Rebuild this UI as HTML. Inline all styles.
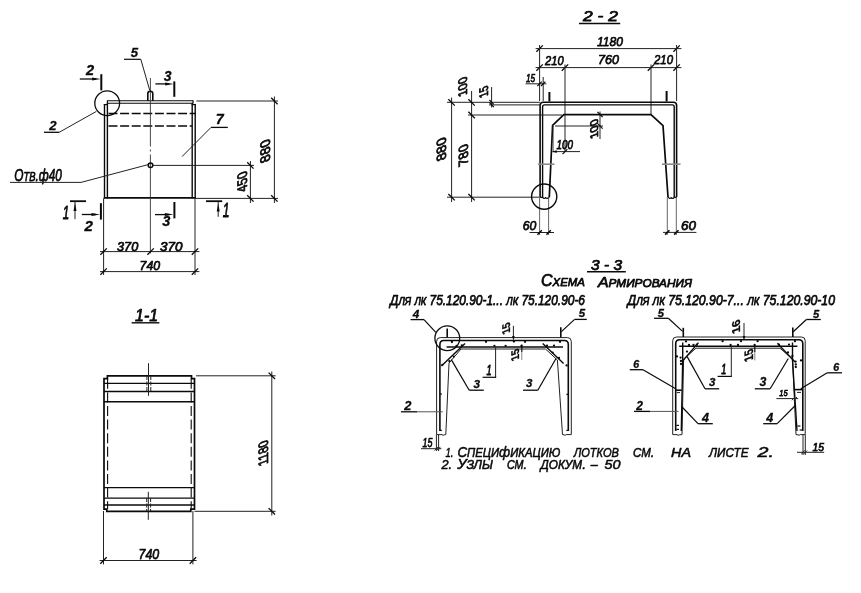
<!DOCTYPE html>
<html lang="ru">
<head>
<meta charset="utf-8">
<title>Лоток ЛК 75.120.90</title>
<style>
html,body{margin:0;padding:0;background:#fff;}
body{width:861px;height:593px;overflow:hidden;}
svg{display:block;will-change:transform;transform:translateZ(0);}
svg text{font-family:"Liberation Sans",sans-serif;font-style:italic;fill:#0a0a0a;stroke:#0a0a0a;stroke-width:0.75px;stroke-linejoin:round;}
</style>
</head>
<body>
<svg width="861" height="593" viewBox="0 0 861 593">
<rect x="0" y="0" width="861" height="593" fill="#ffffff"/>
<line x1="107.2" y1="100.8" x2="193.2" y2="100.8" stroke="#0a0a0a" stroke-width="1.1"/>
<line x1="107.2" y1="103.2" x2="193.2" y2="103.2" stroke="#0a0a0a" stroke-width="1.1"/>
<line x1="107.4" y1="100.4" x2="107.4" y2="103.5" stroke="#0a0a0a" stroke-width="1.2"/>
<line x1="193" y1="100.4" x2="193" y2="103.5" stroke="#0a0a0a" stroke-width="1.2"/>
<line x1="104.5" y1="104.2" x2="104.5" y2="198.4" stroke="#0a0a0a" stroke-width="1.4"/>
<line x1="107.4" y1="103" x2="107.4" y2="198.4" stroke="#0a0a0a" stroke-width="1.4"/>
<line x1="103.8" y1="104.6" x2="107.6" y2="104.6" stroke="#0a0a0a" stroke-width="1.2"/>
<line x1="192.2" y1="103" x2="192.2" y2="198.4" stroke="#0a0a0a" stroke-width="1.4"/>
<line x1="195.2" y1="104.2" x2="195.2" y2="198.4" stroke="#0a0a0a" stroke-width="1.4"/>
<line x1="191.6" y1="104.6" x2="195.9" y2="104.6" stroke="#0a0a0a" stroke-width="1.2"/>
<line x1="103.8" y1="197.9" x2="195.9" y2="197.9" stroke="#0a0a0a" stroke-width="1.6"/>
<line x1="108.5" y1="113.6" x2="196" y2="113.6" stroke="#0a0a0a" stroke-width="1.5" stroke-dasharray="9 2.6"/>
<line x1="108.5" y1="126" x2="192" y2="126" stroke="#0a0a0a" stroke-width="1.5" stroke-dasharray="9 2.6"/>
<line x1="150.4" y1="78" x2="150.4" y2="146.5" stroke="#333" stroke-width="0.9"/>
<line x1="150.4" y1="149.5" x2="150.4" y2="151.5" stroke="#333" stroke-width="0.9"/>
<line x1="150.4" y1="154.5" x2="150.4" y2="253.5" stroke="#333" stroke-width="0.9"/>
<path d="M147.8,101 L147.8,93.6 Q147.8,91.2 150.3,91.2 Q152.8,91.2 152.8,93.6 L152.8,101" fill="none" stroke="#0a0a0a" stroke-width="1.6" stroke-linejoin="round"/>
<circle cx="150.5" cy="165.2" r="2.3" fill="none" stroke="#0a0a0a" stroke-width="1.5"/>
<line x1="152.8" y1="165.4" x2="254" y2="165.4" stroke="#222" stroke-width="1"/>
<text x="134.39" y="57.2" text-anchor="middle" style="font-size:13.13px;font-weight:bold;stroke-width:0.3px;">5</text>
<line x1="124" y1="59.3" x2="140.8" y2="59.3" stroke="#0a0a0a" stroke-width="1.2"/>
<line x1="140.8" y1="59.3" x2="149.8" y2="90.6" stroke="#222" stroke-width="1"/>
<text x="90.01" y="75" text-anchor="middle" style="font-size:14.53px;font-weight:bold;stroke-width:0.3px;">2</text>
<line x1="79.8" y1="79" x2="96" y2="79" stroke="#0a0a0a" stroke-width="1.3"/>
<path d="M100.6,79 L92.1,77.5 L92.1,80.5 Z" fill="#0a0a0a"/>
<line x1="101.3" y1="74.2" x2="101.3" y2="90.4" stroke="#0a0a0a" stroke-width="2"/>
<text x="167.57" y="80.6" text-anchor="middle" style="font-size:13.97px;font-weight:bold;stroke-width:0.3px;">3</text>
<line x1="155.4" y1="83.9" x2="169" y2="83.9" stroke="#0a0a0a" stroke-width="1.3"/>
<path d="M173.6,83.9 L165.1,82.4 L165.1,85.4 Z" fill="#0a0a0a"/>
<line x1="174.3" y1="81.4" x2="174.3" y2="96.8" stroke="#0a0a0a" stroke-width="2"/>
<circle cx="107.2" cy="103.3" r="12.4" fill="none" stroke="#0a0a0a" stroke-width="1.3"/>
<text x="52.84" y="129.8" text-anchor="middle" style="font-size:13.13px;font-weight:bold;stroke-width:0.3px;">2</text>
<line x1="44" y1="132.3" x2="59.2" y2="132.3" stroke="#0a0a0a" stroke-width="1.3"/>
<line x1="59.2" y1="132.3" x2="96.4" y2="111.4" stroke="#222" stroke-width="1"/>
<text x="219.82" y="124.4" text-anchor="middle" style="font-size:14.25px;font-weight:bold;stroke-width:0.3px;">7</text>
<line x1="211" y1="127.4" x2="227.8" y2="127.4" stroke="#0a0a0a" stroke-width="1.3"/>
<line x1="211" y1="127.4" x2="182" y2="156.6" stroke="#222" stroke-width="1"/>
<text x="14.2" y="180.6" textLength="47.6" lengthAdjust="spacingAndGlyphs" style="font-size:15.92px;">О<tspan style="font-size:80%;text-transform:uppercase">тв</tspan>.ф40</text>
<line x1="10" y1="182.4" x2="81" y2="182.4" stroke="#222" stroke-width="1"/>
<line x1="81" y1="182.4" x2="148.2" y2="164.6" stroke="#222" stroke-width="1"/>
<line x1="70" y1="201.2" x2="86" y2="201.2" stroke="#0a0a0a" stroke-width="1.8"/>
<line x1="75" y1="201.4" x2="75" y2="219.2" stroke="#222" stroke-width="1"/>
<path d="M75,203 L73.5,211 L76.5,211 Z" fill="#0a0a0a"/>
<text x="62.67" y="219" textLength="6.45" lengthAdjust="spacingAndGlyphs" style="font-size:18.72px;stroke-width:0.9px;">1</text>
<line x1="81.8" y1="214.5" x2="96" y2="214.5" stroke="#0a0a0a" stroke-width="1.3"/>
<path d="M100,214.5 L91.5,213 L91.5,216 Z" fill="#0a0a0a"/>
<line x1="100.9" y1="203.2" x2="100.9" y2="219.6" stroke="#0a0a0a" stroke-width="2"/>
<text x="88.7" y="230.8" text-anchor="middle" style="font-size:15.08px;font-weight:bold;stroke-width:0.3px;">2</text>
<line x1="155" y1="214.6" x2="169" y2="214.6" stroke="#0a0a0a" stroke-width="1.3"/>
<path d="M173.4,214.6 L164.9,213.1 L164.9,216.1 Z" fill="#0a0a0a"/>
<line x1="174.4" y1="202" x2="174.4" y2="218.4" stroke="#0a0a0a" stroke-width="2"/>
<text x="166.21" y="226" text-anchor="middle" style="font-size:14.53px;font-weight:bold;stroke-width:0.3px;">3</text>
<line x1="206" y1="201.2" x2="222.2" y2="201.2" stroke="#0a0a0a" stroke-width="1.8"/>
<line x1="218.2" y1="201.4" x2="218.2" y2="216.8" stroke="#222" stroke-width="1"/>
<path d="M218.2,203.4 L216.7,211.4 L219.7,211.4 Z" fill="#0a0a0a"/>
<text x="222.63" y="216.6" textLength="6.74" lengthAdjust="spacingAndGlyphs" style="font-size:19.55px;stroke-width:0.9px;">1</text>
<line x1="196.4" y1="101" x2="278" y2="101" stroke="#222" stroke-width="1"/>
<line x1="196" y1="198.4" x2="278" y2="198.4" stroke="#222" stroke-width="1"/>
<line x1="274.4" y1="96.5" x2="274.4" y2="203" stroke="#222" stroke-width="1"/>
<line x1="271.2" y1="97.8" x2="277.6" y2="104.2" stroke="#0a0a0a" stroke-width="1.3"/>
<line x1="271.2" y1="195.2" x2="277.6" y2="201.6" stroke="#0a0a0a" stroke-width="1.3"/>
<text transform="matrix(0,-1,1,-0.38,270.2,160.67)" textLength="22.67" lengthAdjust="spacingAndGlyphs" style="font-size:13.97px;font-style:normal;">880</text>
<line x1="250.4" y1="161" x2="250.4" y2="203" stroke="#222" stroke-width="1"/>
<line x1="247.2" y1="162.2" x2="253.6" y2="168.6" stroke="#0a0a0a" stroke-width="1.3"/>
<line x1="247.2" y1="195.2" x2="253.6" y2="201.6" stroke="#0a0a0a" stroke-width="1.3"/>
<text transform="matrix(0,-1,1,-0.38,247,190.17)" textLength="20.17" lengthAdjust="spacingAndGlyphs" style="font-size:13.97px;font-style:normal;">450</text>
<line x1="103.6" y1="198.4" x2="103.6" y2="275" stroke="#222" stroke-width="1"/>
<line x1="195" y1="198.4" x2="195" y2="275" stroke="#222" stroke-width="1"/>
<line x1="100" y1="251.6" x2="199.4" y2="251.6" stroke="#222" stroke-width="1"/>
<line x1="100" y1="271.6" x2="199.4" y2="271.6" stroke="#222" stroke-width="1"/>
<line x1="100.4" y1="254.8" x2="106.8" y2="248.4" stroke="#0a0a0a" stroke-width="1.3"/>
<line x1="147.4" y1="254.8" x2="153.8" y2="248.4" stroke="#0a0a0a" stroke-width="1.3"/>
<line x1="191.8" y1="254.8" x2="198.2" y2="248.4" stroke="#0a0a0a" stroke-width="1.3"/>
<line x1="100.4" y1="274.8" x2="106.8" y2="268.4" stroke="#0a0a0a" stroke-width="1.3"/>
<line x1="191.8" y1="274.8" x2="198.2" y2="268.4" stroke="#0a0a0a" stroke-width="1.3"/>
<text x="117" y="250.6" textLength="21.2" lengthAdjust="spacingAndGlyphs" style="font-size:13.41px;">370</text>
<text x="160" y="250.6" textLength="22.4" lengthAdjust="spacingAndGlyphs" style="font-size:13.41px;">370</text>
<text x="139.6" y="270" textLength="20.6" lengthAdjust="spacingAndGlyphs" style="font-size:13.41px;">740</text>
<text x="135" y="320.6" textLength="23.2" lengthAdjust="spacingAndGlyphs" style="font-size:15.92px;">1-1</text>
<line x1="131.6" y1="322.8" x2="159.4" y2="322.8" stroke="#0a0a0a" stroke-width="1.4"/>
<path d="M104,509.2 L104,378.6 L107.4,378.6 L107.4,375.8 L191.5,375.8 L191.5,378.6 L194.5,378.6 L194.5,509.2 L190.8,509.2 L190.8,511.4 L106.8,511.4 L106.8,509.2 Z" fill="none" stroke="#0a0a0a" stroke-width="1.7" stroke-linejoin="miter"/>
<line x1="104" y1="383.4" x2="194.5" y2="383.4" stroke="#0a0a0a" stroke-width="1.4"/>
<line x1="104" y1="391.5" x2="194.5" y2="391.5" stroke="#0a0a0a" stroke-width="1.4"/>
<line x1="104" y1="401.8" x2="194.5" y2="401.8" stroke="#0a0a0a" stroke-width="1.4"/>
<line x1="104" y1="487.6" x2="194.5" y2="487.6" stroke="#0a0a0a" stroke-width="1.4"/>
<line x1="104" y1="498.1" x2="194.5" y2="498.1" stroke="#0a0a0a" stroke-width="1.4"/>
<line x1="104" y1="505" x2="194.5" y2="505" stroke="#0a0a0a" stroke-width="1.4"/>
<line x1="107.6" y1="378.8" x2="107.6" y2="509" stroke="#0a0a0a" stroke-width="1.1" stroke-dasharray="10 3.6"/>
<line x1="191.2" y1="378.8" x2="191.2" y2="509" stroke="#0a0a0a" stroke-width="1.1" stroke-dasharray="10 3.6"/>
<line x1="148.5" y1="363.2" x2="148.5" y2="395.8" stroke="#222" stroke-width="1"/>
<line x1="148.3" y1="491.8" x2="148.3" y2="519.8" stroke="#222" stroke-width="1"/>
<line x1="146.9" y1="376" x2="146.9" y2="391.5" stroke="#222" stroke-width="1" stroke-dasharray="4 1.5"/>
<line x1="150.8" y1="376" x2="150.8" y2="391.5" stroke="#222" stroke-width="1" stroke-dasharray="4 1.5"/>
<line x1="146.7" y1="498" x2="146.7" y2="511" stroke="#222" stroke-width="1" stroke-dasharray="4 1.5"/>
<line x1="150.6" y1="498" x2="150.6" y2="511" stroke="#222" stroke-width="1" stroke-dasharray="4 1.5"/>
<line x1="196" y1="375.8" x2="275.6" y2="375.8" stroke="#222" stroke-width="1"/>
<line x1="194.5" y1="511.3" x2="275.6" y2="511.3" stroke="#222" stroke-width="1"/>
<line x1="271.8" y1="371.5" x2="271.8" y2="515.5" stroke="#222" stroke-width="1"/>
<line x1="268.6" y1="372.6" x2="275" y2="379" stroke="#0a0a0a" stroke-width="1.3"/>
<line x1="268.6" y1="508.1" x2="275" y2="514.5" stroke="#0a0a0a" stroke-width="1.3"/>
<text transform="matrix(0,-1,1,-0.38,268.2,463.7)" textLength="24.7" lengthAdjust="spacingAndGlyphs" style="font-size:13.69px;font-style:normal;">1180</text>
<line x1="103.5" y1="511" x2="103.5" y2="564.4" stroke="#222" stroke-width="1"/>
<line x1="192.9" y1="511" x2="192.9" y2="564.4" stroke="#222" stroke-width="1"/>
<line x1="99.6" y1="560.5" x2="196.6" y2="560.5" stroke="#222" stroke-width="1"/>
<line x1="100.3" y1="563.7" x2="106.7" y2="557.3" stroke="#0a0a0a" stroke-width="1.3"/>
<line x1="189.7" y1="563.7" x2="196.1" y2="557.3" stroke="#0a0a0a" stroke-width="1.3"/>
<text x="138.5" y="558.6" textLength="20.7" lengthAdjust="spacingAndGlyphs" style="font-size:14.8px;">740</text>
<text x="583" y="21" textLength="35" lengthAdjust="spacingAndGlyphs" style="font-size:14.8px;">2 - 2</text>
<line x1="579" y1="23.6" x2="620.2" y2="23.6" stroke="#0a0a0a" stroke-width="1.5"/>
<text x="597" y="45.6" textLength="26" lengthAdjust="spacingAndGlyphs" style="font-size:13.69px;">1180</text>
<line x1="535.6" y1="48.6" x2="681.4" y2="48.6" stroke="#222" stroke-width="1"/>
<line x1="535.6" y1="67.6" x2="681.4" y2="67.6" stroke="#222" stroke-width="1"/>
<line x1="536.4" y1="51.8" x2="542.8" y2="45.4" stroke="#0a0a0a" stroke-width="1.3"/>
<line x1="673.4" y1="51.8" x2="679.8" y2="45.4" stroke="#0a0a0a" stroke-width="1.3"/>
<line x1="536.4" y1="70.8" x2="542.8" y2="64.4" stroke="#0a0a0a" stroke-width="1.3"/>
<line x1="561.8" y1="70.8" x2="568.2" y2="64.4" stroke="#0a0a0a" stroke-width="1.3"/>
<line x1="647.8" y1="70.8" x2="654.2" y2="64.4" stroke="#0a0a0a" stroke-width="1.3"/>
<line x1="673.4" y1="70.8" x2="679.8" y2="64.4" stroke="#0a0a0a" stroke-width="1.3"/>
<text x="545" y="64.8" textLength="18.6" lengthAdjust="spacingAndGlyphs" style="font-size:13.69px;">210</text>
<text x="598" y="64.4" textLength="21" lengthAdjust="spacingAndGlyphs" style="font-size:13.69px;">760</text>
<text x="654" y="64.4" textLength="19" lengthAdjust="spacingAndGlyphs" style="font-size:13.69px;">210</text>
<line x1="539.6" y1="45" x2="539.6" y2="101" stroke="#222" stroke-width="1"/>
<line x1="676.6" y1="45" x2="676.6" y2="101" stroke="#222" stroke-width="1"/>
<line x1="565" y1="64.5" x2="565" y2="151.6" stroke="#222" stroke-width="1"/>
<line x1="651" y1="64.5" x2="651" y2="114" stroke="#222" stroke-width="1"/>
<text x="526" y="82.4" textLength="9.2" lengthAdjust="spacingAndGlyphs" style="font-size:11.45px;">15</text>
<line x1="525.6" y1="83.8" x2="546.4" y2="83.8" stroke="#222" stroke-width="1"/>
<line x1="543.2" y1="77" x2="543.2" y2="101" stroke="#222" stroke-width="1"/>
<line x1="537.4" y1="86" x2="541.8" y2="81.6" stroke="#0a0a0a" stroke-width="1.1"/>
<line x1="541" y1="86" x2="545.4" y2="81.6" stroke="#0a0a0a" stroke-width="1.1"/>
<line x1="549.4" y1="92" x2="549.4" y2="101.4" stroke="#0a0a0a" stroke-width="2"/>
<line x1="666.6" y1="91" x2="666.6" y2="101.4" stroke="#0a0a0a" stroke-width="2"/>
<path d="M540.1,197 L540.1,105.4 Q540.1,102.2 543.3,102.2 L673.4,102.2 Q676.6,102.2 676.6,105.4 L676.6,197" fill="none" stroke="#0a0a0a" stroke-width="1.6" stroke-linejoin="round"/>
<path d="M542.6,197 L542.6,106.8 Q542.6,104.9 544.6,104.9 L672.2,104.9 Q674.2,104.9 674.2,106.8 L674.2,197" fill="none" stroke="#0a0a0a" stroke-width="1.4" stroke-linejoin="round"/>
<path d="M549.3,197 L552.6,125.4 L563.8,114.6 L651,114.6 L663,125.6 L668,197" fill="none" stroke="#0a0a0a" stroke-width="1.7" stroke-linejoin="miter"/>
<path d="M540.1,197.4 L542.6,197.4 Q544.2,199.4 545.6,197.6 Q547.4,199.4 549.3,197" fill="none" stroke="#0a0a0a" stroke-width="1.3" stroke-linejoin="round"/>
<path d="M668,197 Q669.6,199.4 671.2,197.6 Q672.8,199.4 674.2,197.4 L676.6,197.4" fill="none" stroke="#0a0a0a" stroke-width="1.3" stroke-linejoin="round"/>
<line x1="538" y1="164.2" x2="554.5" y2="164.2" stroke="#8a8a8a" stroke-width="1.6"/>
<line x1="662" y1="164.2" x2="680.5" y2="164.2" stroke="#8a8a8a" stroke-width="1.6"/>
<line x1="539.6" y1="197" x2="539.6" y2="235" stroke="#555" stroke-width="0.9"/>
<line x1="548.6" y1="197" x2="548.6" y2="235" stroke="#555" stroke-width="0.9"/>
<line x1="667.3" y1="197" x2="667.3" y2="235" stroke="#555" stroke-width="0.9"/>
<line x1="676.3" y1="197" x2="676.3" y2="235" stroke="#555" stroke-width="0.9"/>
<line x1="451.6" y1="97.5" x2="451.6" y2="202" stroke="#222" stroke-width="1"/>
<line x1="471.6" y1="91" x2="471.6" y2="202" stroke="#222" stroke-width="1"/>
<line x1="491.6" y1="87" x2="491.6" y2="107.5" stroke="#222" stroke-width="1"/>
<line x1="447" y1="102.3" x2="540" y2="102.3" stroke="#222" stroke-width="1"/>
<line x1="489" y1="104.9" x2="540" y2="104.9" stroke="#222" stroke-width="1"/>
<line x1="468" y1="115" x2="562" y2="115" stroke="#222" stroke-width="1"/>
<line x1="447" y1="197.2" x2="539" y2="197.2" stroke="#222" stroke-width="1"/>
<line x1="448.4" y1="99.2" x2="454.8" y2="105.6" stroke="#0a0a0a" stroke-width="1.3"/>
<line x1="448.4" y1="194" x2="454.8" y2="200.4" stroke="#0a0a0a" stroke-width="1.3"/>
<line x1="468.4" y1="99.2" x2="474.8" y2="105.6" stroke="#0a0a0a" stroke-width="1.3"/>
<line x1="468.4" y1="111.8" x2="474.8" y2="118.2" stroke="#0a0a0a" stroke-width="1.3"/>
<line x1="468.4" y1="194" x2="474.8" y2="200.4" stroke="#0a0a0a" stroke-width="1.3"/>
<line x1="489.4" y1="100" x2="493.8" y2="104.4" stroke="#0a0a0a" stroke-width="1.1"/>
<line x1="489.4" y1="102.6" x2="493.8" y2="107" stroke="#0a0a0a" stroke-width="1.1"/>
<text transform="matrix(0,-1,1,-0.38,467,94.8)" textLength="19.2" lengthAdjust="spacingAndGlyphs" style="font-size:12.57px;font-style:normal;">100</text>
<text transform="matrix(0,-1,1,-0.38,488,95.8)" textLength="11" lengthAdjust="spacingAndGlyphs" style="font-size:12.57px;font-style:normal;">15</text>
<text transform="matrix(0,-1,1,-0.38,445.6,159.12)" textLength="23.12" lengthAdjust="spacingAndGlyphs" style="font-size:13.41px;font-style:normal;">880</text>
<text transform="matrix(0,-1,1,-0.38,467.6,164.32)" textLength="21.32" lengthAdjust="spacingAndGlyphs" style="font-size:13.41px;font-style:normal;">780</text>
<line x1="552.6" y1="151.6" x2="580" y2="151.6" stroke="#222" stroke-width="1"/>
<line x1="553.2" y1="126" x2="553.2" y2="152.4" stroke="#444" stroke-width="0.8"/>
<path d="M552.2,151.6 L556.7,150.3 L556.7,152.9 Z" fill="#0a0a0a"/>
<line x1="562.6" y1="154" x2="567.4" y2="149.2" stroke="#0a0a0a" stroke-width="1.1"/>
<text x="556.6" y="149" textLength="16.4" lengthAdjust="spacingAndGlyphs" style="font-size:12.01px;">100</text>
<line x1="600" y1="111.5" x2="600" y2="139" stroke="#222" stroke-width="1"/>
<line x1="555" y1="126" x2="603" y2="126" stroke="#222" stroke-width="1"/>
<line x1="597.4" y1="111.8" x2="602.6" y2="117" stroke="#0a0a0a" stroke-width="1.2"/>
<line x1="597.4" y1="123.4" x2="602.6" y2="128.6" stroke="#0a0a0a" stroke-width="1.2"/>
<text transform="matrix(0,-1,1,-0.38,598,136.94)" textLength="18.94" lengthAdjust="spacingAndGlyphs" style="font-size:11.17px;font-style:normal;">100</text>
<circle cx="544.2" cy="196.6" r="12.6" fill="none" stroke="#0a0a0a" stroke-width="1.4"/>
<text x="522.8" y="230" textLength="13.6" lengthAdjust="spacingAndGlyphs" style="font-size:13.69px;">60</text>
<line x1="529.5" y1="232.5" x2="554" y2="232.5" stroke="#222" stroke-width="1"/>
<line x1="537.4" y1="234.7" x2="541.8" y2="230.3" stroke="#0a0a0a" stroke-width="1.5"/>
<line x1="546.4" y1="234.7" x2="550.8" y2="230.3" stroke="#0a0a0a" stroke-width="1.5"/>
<text x="681" y="229.6" textLength="15" lengthAdjust="spacingAndGlyphs" style="font-size:13.69px;">60</text>
<line x1="663" y1="232.4" x2="696.4" y2="232.4" stroke="#222" stroke-width="1"/>
<line x1="665.1" y1="234.6" x2="669.5" y2="230.2" stroke="#0a0a0a" stroke-width="1.5"/>
<line x1="674.1" y1="234.6" x2="678.5" y2="230.2" stroke="#0a0a0a" stroke-width="1.5"/>
<text x="591" y="270" textLength="31" lengthAdjust="spacingAndGlyphs" style="font-size:14.8px;">3 - 3</text>
<line x1="587" y1="271.8" x2="625.8" y2="271.8" stroke="#0a0a0a" stroke-width="1.5"/>
<text x="541" y="286" textLength="44" lengthAdjust="spacingAndGlyphs" style="font-size:16.06px;">С<tspan style="font-size:72%;text-transform:uppercase">хема</tspan></text>
<text x="598" y="287" textLength="94" lengthAdjust="spacingAndGlyphs" style="font-size:15.36px;">А<tspan style="font-size:74%;text-transform:uppercase">рмирования</tspan></text>
<text x="390" y="304.7" textLength="195" lengthAdjust="spacingAndGlyphs" style="font-size:14.11px;">Д<tspan style="font-size:78%;text-transform:uppercase">ля</tspan> <tspan style="font-size:78%;text-transform:uppercase">лк</tspan> 75.120.90-1... <tspan style="font-size:78%;text-transform:uppercase">лк</tspan> 75.120.90-6</text>
<text x="627.5" y="305.4" textLength="207.5" lengthAdjust="spacingAndGlyphs" style="font-size:14.25px;">Д<tspan style="font-size:78%;text-transform:uppercase">ля</tspan> <tspan style="font-size:78%;text-transform:uppercase">лк</tspan> 75.120.90-7... <tspan style="font-size:78%;text-transform:uppercase">лк</tspan> 75.120.90-10</text>
<path d="M436.6,434.6 L436.6,341.2 Q436.6,337.6 440.2,337.6 L567.5,337.6 Q571.3,337.6 571.3,341.4 L571.3,434.6" fill="none" stroke="#222" stroke-width="1" stroke-linejoin="round"/>
<path d="M439.9,431 L439.9,344.4 Q439.9,340.5 443.8,340.5 L564.4,340.5 Q568.3,340.5 568.3,344.4 L568.3,431" fill="none" stroke="#0a0a0a" stroke-width="1.6" stroke-linejoin="round"/>
<line x1="446.6" y1="347" x2="563" y2="347" stroke="#0a0a0a" stroke-width="1.4"/>
<path d="M445.8,434.6 L449,363 L461,349 L545.5,349 L557.4,360 L562.5,434.6" fill="none" stroke="#222" stroke-width="1" stroke-linejoin="miter"/>
<path d="M436.6,434.6 L442,434.6 Q443,436 444.2,434.8 L445.8,434.6" fill="none" stroke="#222" stroke-width="1" stroke-linejoin="round"/>
<path d="M562.5,434.6 L564,434.8 Q565,436 566.2,434.6 L571.3,434.6" fill="none" stroke="#222" stroke-width="1" stroke-linejoin="round"/>
<line x1="465" y1="343.6" x2="441.4" y2="366" stroke="#0a0a0a" stroke-width="1.4"/>
<line x1="542.7" y1="343.5" x2="563.6" y2="363.4" stroke="#0a0a0a" stroke-width="1.4"/>
<circle cx="451.9" cy="342" r="1.15" fill="#0a0a0a"/>
<circle cx="486" cy="341.8" r="1.15" fill="#0a0a0a"/>
<circle cx="513.9" cy="341.6" r="1.15" fill="#0a0a0a"/>
<circle cx="525" cy="341.8" r="1.15" fill="#0a0a0a"/>
<circle cx="560" cy="341.8" r="1.15" fill="#0a0a0a"/>
<circle cx="494.4" cy="345.8" r="1.15" fill="#0a0a0a"/>
<circle cx="505.6" cy="345.8" r="1.15" fill="#0a0a0a"/>
<circle cx="521.5" cy="345.8" r="1.15" fill="#0a0a0a"/>
<circle cx="547" cy="345.6" r="1.15" fill="#0a0a0a"/>
<circle cx="554" cy="345.6" r="1.15" fill="#0a0a0a"/>
<circle cx="456.5" cy="346" r="1.15" fill="#0a0a0a"/>
<circle cx="461.8" cy="345.4" r="1.15" fill="#0a0a0a"/>
<circle cx="453.8" cy="356.6" r="1.15" fill="#0a0a0a"/>
<circle cx="449.4" cy="361.2" r="1.15" fill="#0a0a0a"/>
<circle cx="442.4" cy="364.8" r="1.15" fill="#0a0a0a"/>
<circle cx="552.6" cy="352.6" r="1.15" fill="#0a0a0a"/>
<circle cx="559" cy="358" r="1.15" fill="#0a0a0a"/>
<circle cx="566.6" cy="365.4" r="1.15" fill="#0a0a0a"/>
<line x1="439.9" y1="394" x2="441.8" y2="394" stroke="#0a0a0a" stroke-width="1.3"/>
<line x1="439.9" y1="430.4" x2="441.8" y2="430.4" stroke="#0a0a0a" stroke-width="1.3"/>
<line x1="568.3" y1="394.4" x2="566.4" y2="394.4" stroke="#0a0a0a" stroke-width="1.3"/>
<line x1="568.3" y1="430.4" x2="566.4" y2="430.4" stroke="#0a0a0a" stroke-width="1.3"/>
<circle cx="447.3" cy="338.2" r="12.4" fill="none" stroke="#0a0a0a" stroke-width="1.3"/>
<line x1="447.2" y1="328.5" x2="447.2" y2="337.4" stroke="#0a0a0a" stroke-width="1.6"/>
<text x="415.97" y="317.6" text-anchor="middle" style="font-size:11.73px;font-weight:bold;stroke-width:0.3px;">4</text>
<line x1="410.6" y1="319.6" x2="424" y2="319.6" stroke="#0a0a0a" stroke-width="1.3"/>
<line x1="424" y1="319.6" x2="435.8" y2="332.4" stroke="#0a0a0a" stroke-width="1.2"/>
<text x="581.97" y="317.4" text-anchor="middle" style="font-size:11.45px;font-weight:bold;stroke-width:0.3px;">5</text>
<line x1="574.6" y1="319.4" x2="586.8" y2="319.4" stroke="#0a0a0a" stroke-width="1.3"/>
<line x1="574.6" y1="319.4" x2="561.4" y2="331.6" stroke="#0a0a0a" stroke-width="1.2"/>
<line x1="560.8" y1="327.2" x2="560.8" y2="337.2" stroke="#0a0a0a" stroke-width="1.6"/>
<text transform="matrix(0,-1,1,-0.38,509.8,332.54)" textLength="11.14" lengthAdjust="spacingAndGlyphs" style="font-size:11.17px;font-style:normal;font-weight:bold;stroke-width:0.3px;">15</text>
<line x1="513.4" y1="325.8" x2="513.4" y2="337" stroke="#222" stroke-width="1"/>
<path d="M513.4,340.6 L512.1,336.1 L514.7,336.1 Z" fill="#0a0a0a"/>
<text transform="matrix(0,-1,1,-0.38,518.8,359.14)" textLength="11.34" lengthAdjust="spacingAndGlyphs" style="font-size:11.17px;font-style:normal;font-weight:bold;stroke-width:0.3px;">15</text>
<line x1="521.8" y1="344.6" x2="521.8" y2="352" stroke="#0a0a0a" stroke-width="1.2"/>
<line x1="521.8" y1="352" x2="521.8" y2="360" stroke="#888" stroke-width="1"/>
<text x="486.45" y="375" textLength="5.1" lengthAdjust="spacingAndGlyphs" style="font-size:14.8px;stroke-width:0.9px;">1</text>
<line x1="495.6" y1="347.2" x2="495.6" y2="377.3" stroke="#222" stroke-width="1"/>
<line x1="482.6" y1="377.3" x2="496.2" y2="377.3" stroke="#0a0a0a" stroke-width="1.2"/>
<text x="476.72" y="388.4" text-anchor="middle" style="font-size:11.73px;font-weight:bold;stroke-width:0.3px;">3</text>
<line x1="469.2" y1="390.2" x2="483.8" y2="390.2" stroke="#0a0a0a" stroke-width="1.3"/>
<line x1="469.2" y1="390.2" x2="451.3" y2="359.6" stroke="#0a0a0a" stroke-width="1.2"/>
<text x="529.27" y="387.4" text-anchor="middle" style="font-size:11.45px;font-weight:bold;stroke-width:0.3px;">3</text>
<line x1="523" y1="390.2" x2="537.8" y2="390.2" stroke="#0a0a0a" stroke-width="1.3"/>
<line x1="537.8" y1="390.2" x2="556" y2="358.5" stroke="#0a0a0a" stroke-width="1.2"/>
<text x="407.94" y="410.4" text-anchor="middle" style="font-size:12.85px;font-weight:bold;stroke-width:0.3px;">2</text>
<line x1="401" y1="411.8" x2="417" y2="411.8" stroke="#0a0a0a" stroke-width="1.3"/>
<line x1="417" y1="411.8" x2="442.7" y2="411.8" stroke="#555" stroke-width="1"/>
<text x="422.5" y="446.6" textLength="9.9" lengthAdjust="spacingAndGlyphs" style="font-size:12.01px;">15</text>
<line x1="421" y1="448.7" x2="441.4" y2="448.7" stroke="#222" stroke-width="1"/>
<line x1="436.4" y1="434.6" x2="436.4" y2="451" stroke="#222" stroke-width="1"/>
<line x1="438.6" y1="434.6" x2="438.6" y2="451" stroke="#222" stroke-width="1"/>
<line x1="434.6" y1="450.5" x2="438.2" y2="446.9" stroke="#222" stroke-width="1"/>
<line x1="436.8" y1="450.5" x2="440.4" y2="446.9" stroke="#222" stroke-width="1"/>
<path d="M672.7,434.6 L672.7,340.8 Q672.7,337 676.5,337 L801.4,337 Q805.2,337 805.2,340.8 L805.2,434.6" fill="none" stroke="#222" stroke-width="1" stroke-linejoin="round"/>
<path d="M675.7,431 L675.7,343.8 Q675.7,339.8 679.7,339.8 L798.8,339.8 Q802.8,339.8 802.8,343.8 L802.8,431" fill="none" stroke="#0a0a0a" stroke-width="1.6" stroke-linejoin="round"/>
<line x1="679.2" y1="346.2" x2="797.4" y2="346.2" stroke="#0a0a0a" stroke-width="1.4"/>
<path d="M682,434.6 L683.6,359.2 L696,348.2 L780,348.2 L792.5,359.2 L796,434.6" fill="none" stroke="#222" stroke-width="1" stroke-linejoin="miter"/>
<path d="M682.7,342.5 L682.7,360 L681.3,431" fill="none" stroke="#0a0a0a" stroke-width="1.4" stroke-linejoin="round"/>
<path d="M792.5,342.5 L792.5,360 L797,431" fill="none" stroke="#0a0a0a" stroke-width="1.4" stroke-linejoin="round"/>
<path d="M672.7,434.6 L677,434.6 Q678,436 679.2,434.8 L682,434.6" fill="none" stroke="#222" stroke-width="1" stroke-linejoin="round"/>
<path d="M796,434.6 L798,434.8 Q799,436 800.2,434.6 L805.2,434.6" fill="none" stroke="#222" stroke-width="1" stroke-linejoin="round"/>
<line x1="698.5" y1="342.6" x2="682.6" y2="361" stroke="#0a0a0a" stroke-width="1.4"/>
<line x1="777.4" y1="343.2" x2="795" y2="362" stroke="#0a0a0a" stroke-width="1.4"/>
<circle cx="686" cy="341.4" r="1.15" fill="#0a0a0a"/>
<circle cx="722.6" cy="341.2" r="1.15" fill="#0a0a0a"/>
<circle cx="741" cy="341.2" r="1.15" fill="#0a0a0a"/>
<circle cx="757.6" cy="341.2" r="1.15" fill="#0a0a0a"/>
<circle cx="795" cy="341.2" r="1.15" fill="#0a0a0a"/>
<circle cx="689" cy="345" r="1.15" fill="#0a0a0a"/>
<circle cx="693.5" cy="345" r="1.15" fill="#0a0a0a"/>
<circle cx="696.8" cy="344.6" r="1.15" fill="#0a0a0a"/>
<circle cx="730.6" cy="345" r="1.15" fill="#0a0a0a"/>
<circle cx="738" cy="345" r="1.15" fill="#0a0a0a"/>
<circle cx="754.6" cy="345" r="1.15" fill="#0a0a0a"/>
<circle cx="779" cy="344.6" r="1.15" fill="#0a0a0a"/>
<circle cx="789" cy="344.6" r="1.15" fill="#0a0a0a"/>
<circle cx="687" cy="351.6" r="1.15" fill="#0a0a0a"/>
<circle cx="677" cy="356.4" r="1.15" fill="#0a0a0a"/>
<circle cx="680.6" cy="357.6" r="1.15" fill="#0a0a0a"/>
<circle cx="681" cy="361" r="1.15" fill="#0a0a0a"/>
<circle cx="681" cy="364" r="1.15" fill="#0a0a0a"/>
<circle cx="788" cy="352.4" r="1.15" fill="#0a0a0a"/>
<circle cx="792.4" cy="356" r="1.15" fill="#0a0a0a"/>
<circle cx="801" cy="360.4" r="1.15" fill="#0a0a0a"/>
<circle cx="795.6" cy="361.6" r="1.15" fill="#0a0a0a"/>
<circle cx="795.8" cy="364.4" r="1.15" fill="#0a0a0a"/>
<circle cx="795.8" cy="367" r="1.15" fill="#0a0a0a"/>
<line x1="675.7" y1="390.2" x2="681.6" y2="390.2" stroke="#0a0a0a" stroke-width="1.6"/>
<line x1="676.8" y1="392.6" x2="680" y2="392.6" stroke="#222" stroke-width="1"/>
<line x1="794" y1="389.6" x2="803" y2="389.6" stroke="#0a0a0a" stroke-width="1.6"/>
<line x1="797" y1="392.4" x2="801" y2="392.4" stroke="#222" stroke-width="1"/>
<line x1="676.4" y1="425.4" x2="679" y2="425.4" stroke="#0a0a0a" stroke-width="1.2"/>
<line x1="676.4" y1="429.4" x2="679" y2="429.4" stroke="#0a0a0a" stroke-width="1.2"/>
<line x1="797.4" y1="426" x2="800.4" y2="426" stroke="#0a0a0a" stroke-width="1.2"/>
<line x1="799.6" y1="430" x2="802" y2="430" stroke="#0a0a0a" stroke-width="1.2"/>
<text x="660.88" y="317" text-anchor="middle" style="font-size:11.17px;font-weight:bold;stroke-width:0.3px;">5</text>
<line x1="654" y1="318.3" x2="668.3" y2="318.3" stroke="#0a0a0a" stroke-width="1.3"/>
<line x1="668.3" y1="318.3" x2="682.6" y2="331.4" stroke="#0a0a0a" stroke-width="1.2"/>
<line x1="683.3" y1="327.8" x2="683.3" y2="337" stroke="#0a0a0a" stroke-width="1.6"/>
<text x="816.13" y="317.6" text-anchor="middle" style="font-size:11.17px;font-weight:bold;stroke-width:0.3px;">5</text>
<line x1="806.4" y1="319.5" x2="820.8" y2="319.5" stroke="#0a0a0a" stroke-width="1.3"/>
<line x1="806.4" y1="319.5" x2="793.2" y2="331.8" stroke="#0a0a0a" stroke-width="1.2"/>
<line x1="792.8" y1="327.6" x2="792.8" y2="337" stroke="#0a0a0a" stroke-width="1.6"/>
<text transform="matrix(0,-1,1,-0.38,740.2,331.91)" textLength="13.51" lengthAdjust="spacingAndGlyphs" style="font-size:11.45px;font-style:normal;font-weight:bold;stroke-width:0.3px;">16</text>
<line x1="744" y1="323" x2="744" y2="337" stroke="#222" stroke-width="1"/>
<path d="M744,340.6 L742.7,336.1 L745.3,336.1 Z" fill="#0a0a0a"/>
<text transform="matrix(0,-1,1,-0.38,752.6,359.63)" textLength="11.83" lengthAdjust="spacingAndGlyphs" style="font-size:12.29px;font-style:normal;font-weight:bold;stroke-width:0.3px;">15</text>
<line x1="754.8" y1="345.3" x2="754.8" y2="352" stroke="#0a0a0a" stroke-width="1.2"/>
<line x1="754.8" y1="352" x2="754.8" y2="360.4" stroke="#888" stroke-width="1"/>
<text x="721.15" y="374" textLength="5.1" lengthAdjust="spacingAndGlyphs" style="font-size:14.8px;stroke-width:0.9px;">1</text>
<line x1="731.3" y1="346" x2="731.3" y2="376.4" stroke="#222" stroke-width="1"/>
<line x1="717.6" y1="376.4" x2="731.8" y2="376.4" stroke="#0a0a0a" stroke-width="1.2"/>
<text x="636.29" y="367.6" text-anchor="middle" style="font-size:10.61px;font-weight:bold;stroke-width:0.3px;">6</text>
<line x1="629.8" y1="369.7" x2="643" y2="369.7" stroke="#0a0a0a" stroke-width="1.3"/>
<line x1="643" y1="369.7" x2="675.7" y2="388.8" stroke="#0a0a0a" stroke-width="1.2"/>
<text x="836.24" y="371" text-anchor="middle" style="font-size:10.61px;font-weight:bold;stroke-width:0.3px;">6</text>
<line x1="827.3" y1="372.8" x2="842" y2="372.8" stroke="#0a0a0a" stroke-width="1.3"/>
<line x1="827.3" y1="372.8" x2="800.8" y2="388.8" stroke="#0a0a0a" stroke-width="1.2"/>
<text x="712.12" y="386" text-anchor="middle" style="font-size:11.45px;font-weight:bold;stroke-width:0.3px;">3</text>
<line x1="705" y1="388.8" x2="719.2" y2="388.8" stroke="#0a0a0a" stroke-width="1.3"/>
<line x1="705" y1="388.8" x2="687" y2="356.4" stroke="#0a0a0a" stroke-width="1.2"/>
<text x="763" y="386" text-anchor="middle" style="font-size:12.29px;font-weight:bold;stroke-width:0.3px;">3</text>
<line x1="754.8" y1="388.8" x2="770.2" y2="388.8" stroke="#0a0a0a" stroke-width="1.3"/>
<line x1="770.2" y1="388.8" x2="788.3" y2="358.5" stroke="#0a0a0a" stroke-width="1.2"/>
<text x="639.71" y="410" text-anchor="middle" style="font-size:12.01px;font-weight:bold;stroke-width:0.3px;">2</text>
<line x1="634" y1="411.4" x2="650" y2="411.4" stroke="#0a0a0a" stroke-width="1.3"/>
<line x1="650" y1="411.4" x2="678.5" y2="411.4" stroke="#555" stroke-width="1"/>
<text x="705.45" y="421.6" text-anchor="middle" style="font-size:12.57px;font-weight:bold;stroke-width:0.3px;">4</text>
<line x1="698" y1="423.7" x2="712.8" y2="423.7" stroke="#0a0a0a" stroke-width="1.3"/>
<line x1="698" y1="423.7" x2="681.6" y2="406.5" stroke="#0a0a0a" stroke-width="1.2"/>
<text x="769.7" y="421.6" text-anchor="middle" style="font-size:12.57px;font-weight:bold;stroke-width:0.3px;">4</text>
<line x1="763.2" y1="423.7" x2="777.2" y2="423.7" stroke="#0a0a0a" stroke-width="1.3"/>
<line x1="777.2" y1="423.7" x2="795.3" y2="405.5" stroke="#0a0a0a" stroke-width="1.2"/>
<text x="779.2" y="395.8" textLength="8.4" lengthAdjust="spacingAndGlyphs" style="font-size:9.78px;">15</text>
<line x1="776.4" y1="398.6" x2="798.2" y2="398.6" stroke="#222" stroke-width="1"/>
<line x1="791.8" y1="400.2" x2="795" y2="397" stroke="#222" stroke-width="1"/>
<line x1="793.8" y1="400.2" x2="797" y2="397" stroke="#222" stroke-width="1"/>
<text x="812.4" y="451" textLength="11.6" lengthAdjust="spacingAndGlyphs" style="font-size:11.17px;">15</text>
<line x1="797" y1="452.3" x2="824.2" y2="452.3" stroke="#222" stroke-width="1"/>
<line x1="803" y1="434.6" x2="803" y2="455" stroke="#222" stroke-width="1"/>
<line x1="805.3" y1="434.6" x2="805.3" y2="455" stroke="#222" stroke-width="1"/>
<line x1="801.2" y1="454.1" x2="804.8" y2="450.5" stroke="#222" stroke-width="1"/>
<line x1="803.5" y1="454.1" x2="807.1" y2="450.5" stroke="#222" stroke-width="1"/>
<text x="445.4" y="456.8" textLength="8" lengthAdjust="spacingAndGlyphs" style="font-size:13.13px;stroke-width:0.55px;">1.</text>
<text x="457.4" y="457" textLength="103" lengthAdjust="spacingAndGlyphs" style="font-size:14.8px;stroke-width:0.55px;">С<tspan style="font-size:85%;text-transform:uppercase">пеци</tspan>ф<tspan style="font-size:85%;text-transform:uppercase">икацию</tspan></text>
<text x="573.7" y="457" textLength="45.3" lengthAdjust="spacingAndGlyphs" style="font-size:15.45px;stroke-width:0.55px;"><tspan style="font-size:85%;text-transform:uppercase">лотков</tspan></text>
<text x="633" y="457" textLength="21.5" lengthAdjust="spacingAndGlyphs" style="font-size:15.45px;stroke-width:0.55px;"><tspan style="font-size:85%;text-transform:uppercase">см</tspan>.</text>
<text x="671" y="457" textLength="20" lengthAdjust="spacingAndGlyphs" style="font-size:15.45px;stroke-width:0.55px;"><tspan style="font-size:85%;text-transform:uppercase">на</tspan></text>
<text x="709" y="457" textLength="39.5" lengthAdjust="spacingAndGlyphs" style="font-size:15.45px;stroke-width:0.55px;"><tspan style="font-size:85%;text-transform:uppercase">листе</tspan></text>
<text x="757.6" y="457" textLength="16.4" lengthAdjust="spacingAndGlyphs" style="font-size:14.8px;stroke-width:0.55px;">2.</text>
<text x="441.4" y="469" textLength="10.6" lengthAdjust="spacingAndGlyphs" style="font-size:13.13px;stroke-width:0.55px;">2.</text>
<text x="457.2" y="469" textLength="35.8" lengthAdjust="spacingAndGlyphs" style="font-size:14.53px;stroke-width:0.55px;">У<tspan style="font-size:85%;text-transform:uppercase">злы</tspan></text>
<text x="506.9" y="469" textLength="20.1" lengthAdjust="spacingAndGlyphs" style="font-size:14.79px;stroke-width:0.55px;"><tspan style="font-size:85%;text-transform:uppercase">см</tspan>.</text>
<text x="540.5" y="469" textLength="45.5" lengthAdjust="spacingAndGlyphs" style="font-size:14.79px;stroke-width:0.55px;"><tspan style="font-size:85%;text-transform:uppercase">докум</tspan>.</text>
<text x="594.25" y="469" text-anchor="middle" style="font-size:12.57px;stroke-width:0.55px;">–</text>
<text x="604.4" y="469" textLength="16" lengthAdjust="spacingAndGlyphs" style="font-size:13.41px;stroke-width:0.55px;">50</text>
</svg>
</body>
</html>
